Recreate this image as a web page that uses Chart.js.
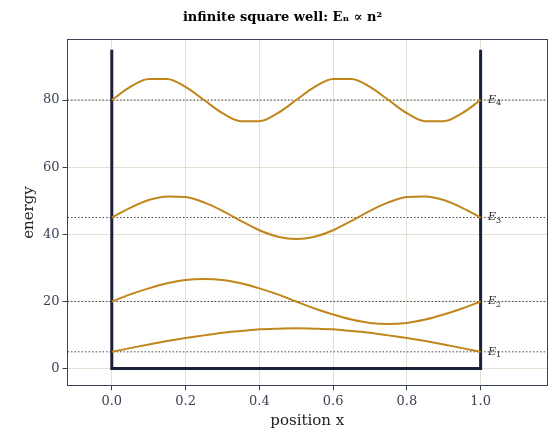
<!DOCTYPE html>
<html>
<head>
<script src="https://cdn.jsdelivr.net/npm/chart.js@4"></script>
<style>
  body { margin: 0; background: #fff; }
  #wrap { width: 556px; height: 442px; }
</style>
</head>
<body>
<div id="wrap"><canvas id="c"></canvas></div>
<script>
let xs = [0, 0.05, 0.1, 0.15, 0.2, 0.25, 0.3, 0.35, 0.4, 0.45, 0.5,
          0.55, 0.6, 0.65, 0.7, 0.75, 0.8, 0.85, 0.9, 0.95, 1];
let curve1 = [5, 6.1, 7.2, 8.2, 9.1, 9.9, 10.7, 11.2, 11.7, 11.9, 12, 11.9, 11.7, 11.2, 10.7, 9.9, 9.1, 8.2, 7.2, 6.1, 5];
let curve2 = [20, 22.1, 23.9, 25.4, 26.4, 26.7, 26.4, 25.4, 23.9, 22.1, 20, 17.9, 16.1, 14.6, 13.6, 13.3, 13.6, 14.6, 16.1, 17.9, 20];
let curve3 = [45, 47.9, 50.2, 51.3, 51.1, 49.5, 47.0, 44.0, 41.2, 39.3, 38.6, 39.3, 41.2, 44.0, 47.0, 49.5, 51.1, 51.3, 50.2, 47.9, 45];
let curve4 = [80, 83.9, 86.3, 86.3, 83.9, 80, 76.1, 73.7, 73.7, 76.1, 80, 83.9, 86.3, 86.3, 83.9, 80, 76.1, 73.7, 73.7, 76.1, 80];
let levels = [5, 20, 45, 80];
let levelLabels = ["1", "2", "3", "4"];
let wallTop = 95;

let curveColor = "#c0861b";
let wallColor = "#1a2238";

function toPoints(values) {
    let points = [];
    for (let i = 0; i < xs.length; i++) {
        points.push({ x: xs[i], y: values[i] });
    }
    return points;
}

let dataSets = [];
for (let curve of [curve1, curve2, curve3, curve4]) {
    dataSets.push({
        data: toPoints(curve),
        borderColor: curveColor,
        borderWidth: 2,
        pointRadius: 0,
        cubicInterpolationMode: "monotone"
    });
}
dataSets.push({
    data: [{ x: 0, y: wallTop }, { x: 0, y: 0 }, { x: 1, y: 0 }, { x: 1, y: wallTop }],
    borderColor: wallColor,
    borderWidth: 3,
    pointRadius: 0,
    tension: 0
});

let levelPlugin = {
    id: "levels",
    beforeDatasetsDraw(chart) {
        let ctx = chart.ctx;
        let area = chart.chartArea;
        let yScale = chart.scales.y;
        ctx.save();
        ctx.strokeStyle = "#444";
        ctx.lineWidth = 1;
        ctx.setLineDash([1.5, 2]);
        for (let e of levels) {
            let py = yScale.getPixelForValue(e);
            ctx.beginPath();
            ctx.moveTo(area.left, py);
            ctx.lineTo(area.right, py);
            ctx.stroke();
        }
        ctx.restore();
    },
    afterDatasetsDraw(chart) {
        let ctx = chart.ctx;
        let xScale = chart.scales.x;
        let yScale = chart.scales.y;
        ctx.save();
        ctx.fillStyle = "#222";
        ctx.textBaseline = "middle";
        for (let i = 0; i < levels.length; i++) {
            let px = xScale.getPixelForValue(1.02);
            let py = yScale.getPixelForValue(levels[i]);
            ctx.font = "italic 11px 'DejaVu Serif'";
            ctx.fillText("E", px, py);
            let w = ctx.measureText("E").width;
            ctx.font = "8px 'DejaVu Serif'";
            ctx.fillText(levelLabels[i], px + w, py + 3);
        }
        ctx.restore();
    }
};

let gridColor = "rgba(190,190,160,0.45)";
let tickFont = { family: "DejaVu Serif", size: 13 };

new Chart(document.getElementById("c").getContext("2d"), {
    type: "line",
    data: { datasets: dataSets },
    plugins: [levelPlugin],
    options: {
        responsive: true,
        maintainAspectRatio: false,
        animation: false,
        layout: { padding: { left: 18, right: 9, top: 2, bottom: 12 } },
        plugins: {
            legend: { display: false },
            tooltip: { enabled: false },
            title: {
                display: true,
                text: "infinite square well: Eₙ ∝ n²",
                color: "#000",
                font: { family: "DejaVu Serif", size: 13, weight: "bold" },
                padding: { top: 8, bottom: 14 }
            }
        },
        scales: {
            x: {
                type: "linear",
                min: -0.12,
                max: 1.18,
                afterBuildTicks(axis) {
                    axis.ticks = [0, 0.2, 0.4, 0.6, 0.8, 1].map(v => ({ value: v }));
                },
                ticks: { color: "#3a4256", font: tickFont, callback: v => v.toFixed(1) },
                grid: { color: gridColor, tickColor: "#3a4256", tickLength: 5 },
                border: { color: "#3a4256", width: 1 },
                title: { display: true, text: "position x", color: "#222", font: { family: "DejaVu Serif", size: 15 }, padding: 0 }
            },
            y: {
                min: -5,
                max: 98,
                afterBuildTicks(axis) {
                    axis.ticks = [0, 20, 40, 60, 80].map(v => ({ value: v }));
                },
                ticks: { color: "#3a4256", font: tickFont },
                grid: { color: gridColor, tickColor: "#3a4256", tickLength: 5 },
                border: { color: "#3a4256", width: 1 },
                title: { display: true, text: "energy", color: "#222", font: { family: "DejaVu Serif", size: 15 }, padding: 2 }
            },
            x2: {
                position: "top", type: "linear", min: 0, max: 1,
                ticks: { display: false }, grid: { display: false, drawTicks: false },
                border: { color: "#3a4256", width: 1 }
            },
            y2: {
                position: "right", min: 0, max: 1,
                ticks: { display: false }, grid: { display: false, drawTicks: false },
                border: { color: "#3a4256", width: 1 }
            }
        }
    }
});
</script>
</body>
</html>
